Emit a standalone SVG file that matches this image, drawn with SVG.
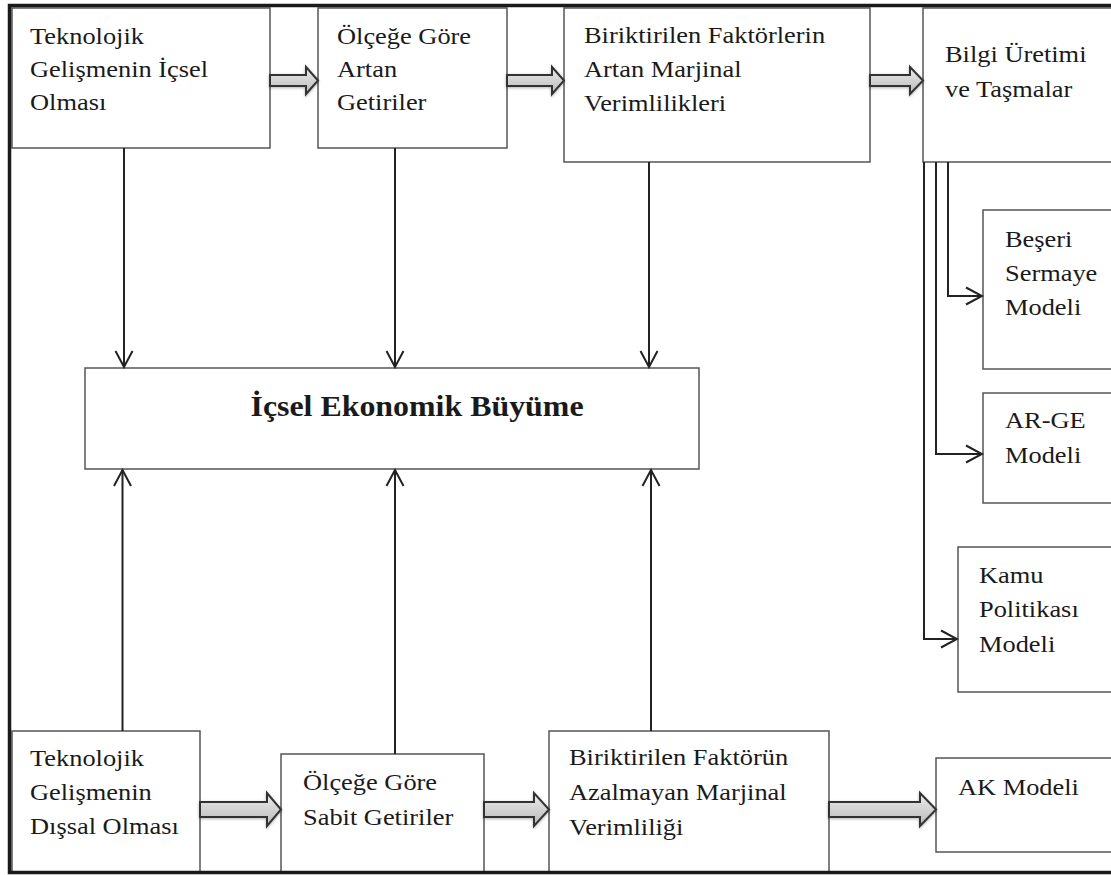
<svg xmlns="http://www.w3.org/2000/svg" width="1111" height="875" viewBox="0 0 1111 875">
<defs>
<linearGradient id="gshaft" x1="0" y1="0" x2="0" y2="1">
<stop offset="0" stop-color="#ececec"/>
<stop offset="1" stop-color="#b9b9b9"/>
</linearGradient>
<marker id="vhead" viewBox="0 0 20 20" refX="18" refY="10" markerWidth="20" markerHeight="20" markerUnits="userSpaceOnUse" orient="auto">
<path d="M2,1.5 L18,10 L2,18.5" fill="none" stroke="#222" stroke-width="2"/>
</marker>
<filter id="sh" x="-20%" y="-40%" width="140%" height="180%">
<feDropShadow dx="0" dy="1" stdDeviation="1.5" flood-color="#000" flood-opacity="0.3"/>
</filter>
</defs>
<style>
.box{fill:#fff;stroke:#555;stroke-width:1.5}
.t{font-family:"Liberation Serif","Times New Roman",serif;font-size:24px;fill:#1a1a1a}
.tb{font-family:"Liberation Serif","Times New Roman",serif;font-size:29px;font-weight:bold;fill:#1a1a1a}
.ln{fill:none;stroke:#222;stroke-width:2}
.blk{fill:url(#gshaft);stroke:#333;stroke-width:2;stroke-linejoin:miter;filter:url(#sh)}
.frame{fill:none;stroke:#1a1a1a;stroke-width:3.5}
</style>
<rect width="1111" height="875" fill="#fff"/>

<g id="n1"><rect class="box" x="12" y="8" width="258" height="140"/>
<text class="t" transform="translate(30,44) scale(1.1,1)"><tspan x="0" y="0">Teknolojik</tspan><tspan x="0" y="33">Gelişmenin İçsel</tspan><tspan x="0" y="66">Olması</tspan></text></g>

<g id="n2"><rect class="box" x="318" y="8" width="189" height="140"/>
<text class="t" transform="translate(337,44) scale(1.1,1)"><tspan x="0" y="0">Ölçeğe Göre</tspan><tspan x="0" y="33">Artan</tspan><tspan x="0" y="66">Getiriler</tspan></text></g>

<g id="n3"><rect class="box" x="564" y="8" width="306" height="154"/>
<text class="t" transform="translate(584,43) scale(1.1,1)"><tspan x="0" y="0">Biriktirilen Faktörlerin</tspan><tspan x="0" y="34">Artan Marjinal</tspan><tspan x="0" y="68">Verimlilikleri</tspan></text></g>

<g id="n4"><rect class="box" x="923" y="8" width="200" height="154"/>
<text class="t" transform="translate(945,62) scale(1.1,1)"><tspan x="0" y="0">Bilgi Üretimi</tspan><tspan x="0" y="35">ve Taşmalar</tspan></text></g>

<g id="n5"><rect class="box" x="983" y="210" width="140" height="159"/>
<text class="t" transform="translate(1005,247) scale(1.1,1)"><tspan x="0" y="0">Beşeri</tspan><tspan x="0" y="34">Sermaye</tspan><tspan x="0" y="68">Modeli</tspan></text></g>

<g id="n6"><rect class="box" x="983" y="393" width="140" height="110"/>
<text class="t" transform="translate(1005,428) scale(1.1,1)"><tspan x="0" y="0">AR-GE</tspan><tspan x="0" y="35">Modeli</tspan></text></g>

<g id="n7"><rect class="box" x="958" y="547" width="165" height="145"/>
<text class="t" transform="translate(979,583) scale(1.1,1)"><tspan x="0" y="0">Kamu</tspan><tspan x="0" y="34">Politikası</tspan><tspan x="0" y="69">Modeli</tspan></text></g>

<g id="n8"><rect class="box" x="85" y="368" width="614" height="101"/>
<text class="tb" transform="translate(417,416) scale(1.1,1)" text-anchor="middle">İçsel Ekonomik Büyüme</text></g>

<g id="n9"><rect class="box" x="12" y="731" width="188" height="141"/>
<text class="t" transform="translate(30,766) scale(1.1,1)"><tspan x="0" y="0">Teknolojik</tspan><tspan x="0" y="34">Gelişmenin</tspan><tspan x="0" y="68">Dışsal Olması</tspan></text></g>

<g id="n10"><rect class="box" x="281" y="754" width="203" height="118"/>
<text class="t" transform="translate(303,790) scale(1.1,1)"><tspan x="0" y="0">Ölçeğe Göre</tspan><tspan x="0" y="35">Sabit Getiriler</tspan></text></g>

<g id="n11"><rect class="box" x="549" y="731" width="280" height="141"/>
<text class="t" transform="translate(569,765) scale(1.1,1)"><tspan x="0" y="0">Biriktirilen Faktörün</tspan><tspan x="0" y="35">Azalmayan Marjinal</tspan><tspan x="0" y="70">Verimliliği</tspan></text></g>

<g id="n12"><rect class="box" x="936" y="758" width="190" height="94"/>
<text class="t" transform="translate(958,795) scale(1.1,1)">AK Modeli</text></g>

<g id="connectors">
<polygon class="blk" points="270,75 306,75 306,67 318,80.5 306,94 306,86 270,86"/>
<polygon class="blk" points="507,75 552,75 552,67 564,80.5 552,94 552,86 507,86"/>
<polygon class="blk" points="870,75 910,75 910,67 923,80.5 910,94 910,86 870,86"/>
<polygon class="blk" points="200,802 267,802 267,793 281,809.5 267,826 267,817 200,817"/>
<polygon class="blk" points="484,802 534,802 534,793 549,809.5 534,826 534,817 484,817"/>
<polygon class="blk" points="829,802 920,802 920,793 936,809.5 920,826 920,817 829,817"/>

<line class="ln" x1="124" y1="148" x2="124" y2="367" marker-end="url(#vhead)"/>
<line class="ln" x1="395" y1="148" x2="395" y2="367" marker-end="url(#vhead)"/>
<line class="ln" x1="649" y1="162" x2="649" y2="367" marker-end="url(#vhead)"/>
<line class="ln" x1="122.5" y1="731" x2="122.5" y2="470" marker-end="url(#vhead)"/>
<line class="ln" x1="395" y1="754" x2="395" y2="470" marker-end="url(#vhead)"/>
<line class="ln" x1="651" y1="731" x2="651" y2="470" marker-end="url(#vhead)"/>

<polyline class="ln" points="924,162 924,639 957,639" marker-end="url(#vhead)"/>
<polyline class="ln" points="936,162 936,454 982,454" marker-end="url(#vhead)"/>
<polyline class="ln" points="948,162 948,296 982,296" marker-end="url(#vhead)"/>
</g>

<path class="frame" d="M1115,5.5 L9.5,5.5 L9.5,872.5 L1115,872.5"/>
</svg>
